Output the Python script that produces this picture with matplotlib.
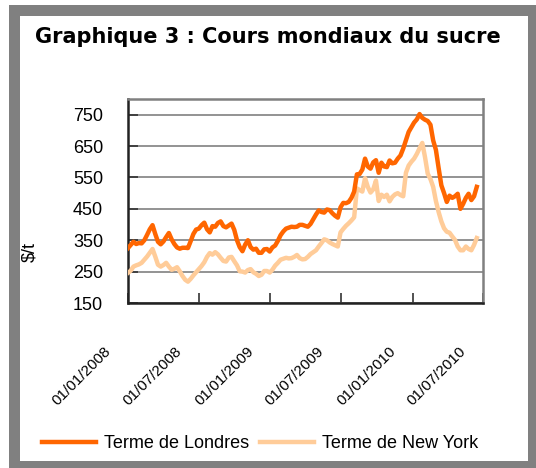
import numpy as np
import pandas as pd
import matplotlib
matplotlib.use('Agg')
import matplotlib.pyplot as plt
import matplotlib.dates as mdates
from matplotlib.patches import Rectangle
from matplotlib.transforms import ScaledTranslation

# ============================================================================
# DONNÉES (relevés hebdomadaires, $/t)
# ============================================================================
dates = pd.date_range('2008-01-01', periods=129, freq='7D')

londres = [
    325, 335, 345, 338, 341, 340, 350, 367, 385, 398,
    370, 345, 337, 346, 360, 373, 353, 338, 327, 323,
    326, 326, 325, 347, 370, 384, 387, 398, 406, 385,
    375, 395, 393, 405, 410, 395, 391, 397, 403, 383,
    350, 328, 315, 336, 350, 328, 320, 323, 310, 310,
    321, 322, 314, 327, 333, 348, 366, 378, 387, 390,
    393, 392, 393, 399, 399, 396, 393, 402, 417, 432,
    445, 440, 438, 448, 446, 436, 428, 422, 455, 469,
    468, 472, 485, 505, 560, 561, 575, 610, 585, 578,
    598, 605, 565, 597, 585, 583, 604, 595, 597, 610,
    620, 642, 668, 695, 710, 725, 735, 752, 740, 734,
    730, 718, 668, 638, 580, 525, 500, 472, 492, 485,
    490, 498, 450, 466, 485, 498, 478, 490, 520,
]

new_york = [
    246, 253, 266, 270, 273, 278, 288, 298, 310, 322,
    298, 272, 266, 271, 278, 266, 256, 259, 264, 251,
    236, 224, 218, 227, 238, 248, 258, 268, 280, 297,
    309, 304, 312, 305, 294, 284, 282, 295, 297, 283,
    270, 251, 250, 247, 255, 258, 248, 243, 236, 240,
    252, 252, 247, 256, 269, 278, 288, 291, 294, 292,
    293, 297, 303, 293, 289, 290, 297, 306, 312, 318,
    330, 341, 353, 350, 343, 338, 334, 330, 375, 386,
    396, 404, 413, 423, 515, 510, 505, 548, 520, 502,
    512, 540, 475, 495, 488, 495, 474, 488, 496, 500,
    494, 490, 565, 588, 600, 610, 625, 643, 660, 615,
    562, 545, 520, 475, 440, 410, 388, 377, 374, 362,
    351, 330, 318, 318, 330, 322, 318, 335, 357,
]

ticks_dates = pd.to_datetime(['2008-01-01', '2008-07-01', '2009-01-01',
                              '2009-07-01', '2010-01-01', '2010-07-01'])
ticks_labels = ['01/01/2008', '01/07/2008', '01/01/2009',
                '01/07/2009', '01/01/2010', '01/07/2010']

# ============================================================================
# FIGURE
# ============================================================================
plt.rcParams['font.family'] = ['Liberation Sans', 'DejaVu Sans']

W, H = 536, 468
fig = plt.figure(figsize=(W / 100, H / 100), dpi=100)

# cadre gris
fig.patches.append(Rectangle((9 / W, -0.05), 1.1, (H - 5) / H + 0.05,
                             transform=fig.transFigure, facecolor='#808080',
                             edgecolor='none', zorder=-2))
fig.patches.append(Rectangle((20 / W, (H - 461) / H), (528 - 20) / W, (461 - 16) / H,
                             transform=fig.transFigure, facecolor='white',
                             edgecolor='none', zorder=-1))

fig.text(268 / W, (H - 37) / H, 'Graphique 3 : Cours mondiaux du sucre',
         ha='center', va='center', fontsize=15, fontweight='bold',
         family='DejaVu Sans')

ax = fig.add_axes([128 / W, (H - 303) / H, (483 - 128) / W, (303 - 99) / H])
ax.patch.set_alpha(0)

ax.plot(dates, new_york, color='#FFCC99', lw=3.2, label='Terme de New York', zorder=3)
ax.plot(dates, londres, color='#FF6600', lw=3.2, label='Terme de Londres', zorder=4)

ax.set_xlim(ticks_dates[0], ticks_dates[-1])
ax.set_ylim(150, 800)
ax.set_yticks(range(150, 751, 100))
ax.yaxis.grid(True, color='#808080', lw=1.2)
ax.set_axisbelow(True)

ax.set_xticks(ticks_dates)
ax.set_xticklabels(ticks_labels, rotation=45, ha='right', rotation_mode='anchor')
ax.tick_params(axis='x', direction='in', length=7, width=1.2, color='#333333',
               labelsize=11, pad=2)
ax.tick_params(axis='y', direction='in', length=7, width=1.2, color='#333333',
               labelsize=13, pad=18)
for lbl in ax.get_xticklabels():
    lbl.set_transform(lbl.get_transform() + ScaledTranslation(-0.24, -0.38, fig.dpi_scale_trans))

for s in ['left', 'bottom']:
    ax.spines[s].set_color('#222222')
    ax.spines[s].set_linewidth(1.8)
for s in ['top', 'right']:
    ax.spines[s].set_color('#808080')
    ax.spines[s].set_linewidth(1.8)

fig.text(30 / W, (H - 252) / H, '$/t', rotation=90, ha='center', va='center', fontsize=13)

h, l = ax.get_legend_handles_labels()
fig.legend(h[::-1], l[::-1], loc='center', bbox_to_anchor=(260 / W, (H - 444) / H),
           ncol=2, frameon=False, fontsize=13, handlelength=3.0,
           handletextpad=0.45, columnspacing=0.6)

fig.savefig('out.png', dpi=100)
